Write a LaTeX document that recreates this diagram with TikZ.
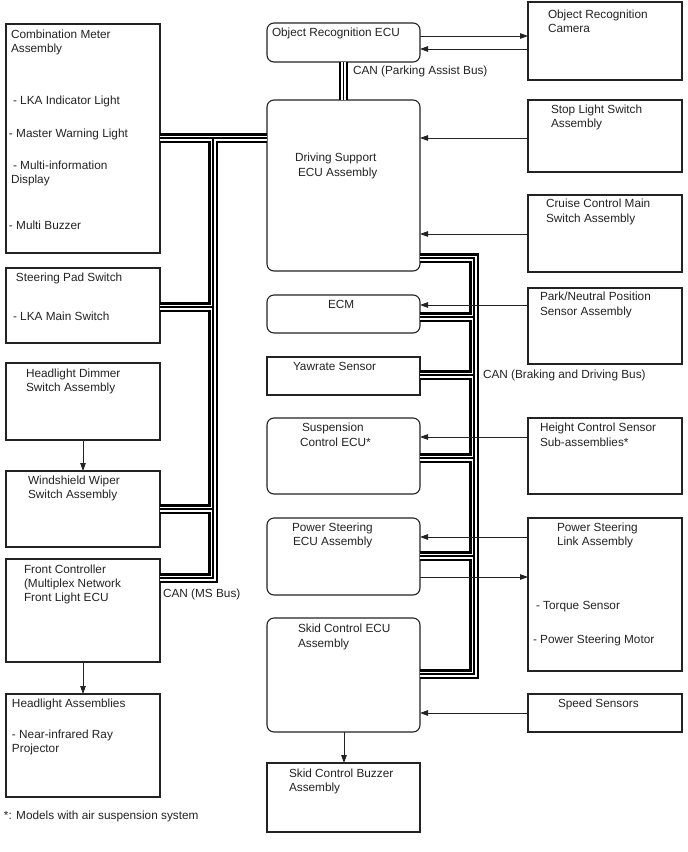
\documentclass[tikz,border=0pt]{standalone}
\usepackage{fontspec}
\setmainfont{Liberation Sans}
\usetikzlibrary{arrows.meta}
\definecolor{ink}{RGB}{35,35,35}
\newcommand\mkbox[6]{%
  \pgfmathsetmacro\myCX{(#3+#5)/2}\pgfmathsetmacro\myCY{(#4+#6)/2}%
  \pgfmathsetmacro\myBW{#5-#3}\pgfmathsetmacro\myBH{#6-#4}%
  \node[#2, minimum width=\myBW pt, minimum height=\myBH pt] (#1) at (\myCX,\myCY) {};}
\newcommand\mytxt[4]{\node[lbl] (#1) at (#2,#3) {#4};}
\begin{document}
\begin{tikzpicture}[x=1pt,y=-1pt,
  sbox/.style={draw=ink, line width=1.1pt, rectangle, inner sep=0pt, outer sep=0pt},
  rbox/.style={sbox, rounded corners=7pt},
  lbl/.style={anchor=base west, inner sep=0pt, outer sep=0pt, text=ink, font=\fontsize{11.8}{13.6}\selectfont},
  arr/.style={draw=ink, line width=0.9pt, -{Triangle[length=8pt,width=5.5pt]}},
  busA/.style={draw=black, line width=9.5pt, line join=miter},
  busB/.style={draw=white, line width=5pt, line join=miter},
  busC/.style={draw=black, line width=1.1pt, line join=miter}]
\fill[white] (0,0) rectangle (688,852);
\useasboundingbox (0,0) rectangle (688,852);
% left column
\mkbox{cm}{sbox}{6}{24}{160}{253}
\mkbox{sp}{sbox}{6}{268}{160}{343}
\mkbox{hd}{sbox}{6}{363}{160}{440}
\mkbox{ww}{sbox}{6}{471}{160}{547}
\mkbox{fc}{sbox}{6}{559}{160}{662}
\mkbox{ha}{sbox}{6}{694}{160}{797}
% middle column
\mkbox{ore}{rbox}{267}{23}{420}{62}
\mkbox{dse}{rbox}{267}{100}{420}{271}
\mkbox{ecm}{rbox}{267}{295}{420}{333}
\mkbox{yaw}{sbox}{267}{357}{420}{395}
\mkbox{sus}{rbox}{267}{418}{420}{494}
\mkbox{ps}{rbox}{267}{518}{420}{595}
\mkbox{sk}{rbox}{267}{618}{420}{732}
\mkbox{skb}{sbox}{267}{763}{420}{832}
% right column
\mkbox{cam}{sbox}{528}{2}{682}{80}
\mkbox{sls}{sbox}{528}{100}{682}{172}
\mkbox{ccm}{sbox}{528}{195}{682}{272}
\mkbox{pn}{sbox}{528}{288}{682}{364}
\mkbox{hc}{sbox}{528}{418}{682}{494}
\mkbox{psl}{sbox}{528}{518}{682}{671}
\mkbox{ss}{sbox}{528}{694}{682}{732}
% buses
\def\busMS{(cm.east |- 0,138) -- (dse.west |- 0,138)
  (213,138) -- (213,578) -- (fc.east |- 0,578)
  (sp.east |- 0,307) -- (213,307)
  (ww.east |- 0,509) -- (213,509)}
\def\busBD{(dse.east |- 0,258) -- (474,258) -- (474,674) -- (sk.east |- 0,674)
  (ecm.east |- 0,317) -- (474,317)
  (yaw.east |- 0,375) -- (474,375)
  (sus.east |- 0,458) -- (474,458)
  (ps.east |- 0,556) -- (474,556)}
\def\busPA{(ore.south) -- (dse.north)}
\foreach \st in {busA,busB,busC}{
  \draw[\st] \busMS;
  \draw[\st] \busBD;
  \draw[\st] \busPA;
}
% arrows
\draw[arr] (ore.east |- 0,36) -- (cam.west |- 0,36);
\draw[arr] (cam.west |- 0,49) -- (ore.east |- 0,49);
\draw[arr] (sls.west |- 0,138) -- (dse.east |- 0,138);
\draw[arr] (ccm.west |- 0,234) -- (dse.east |- 0,234);
\draw[arr] (pn.west |- 0,305) -- (ecm.east |- 0,305);
\draw[arr] (hc.west |- 0,437) -- (sus.east |- 0,437);
\draw[arr] (psl.west |- 0,537) -- (ps.east |- 0,537);
\draw[arr] (ps.east |- 0,577) -- (psl.west |- 0,577);
\draw[arr] (ss.west |- 0,713) -- (sk.east |- 0,713);
\draw[arr] (sk.south -| 344,0) -- (skb.north -| 344,0);
\draw[arr] (hd.south -| 83,0) -- (ww.north -| 83,0);
\draw[arr] (fc.south -| 83,0) -- (ha.north -| 83,0);
% texts
\mytxt{t1}{11}{38}{Combination Meter}
\mytxt{t2}{11}{52}{Assembly}
\mytxt{t3}{13}{104}{- LKA Indicator Light}
\mytxt{t4}{9}{137}{- Master Warning Light}
\mytxt{t5}{13}{169}{- Multi-information}
\mytxt{t6}{11}{183}{Display}
\mytxt{t7}{9}{229}{- Multi Buzzer}
\mytxt{t8}{16}{281}{Steering Pad Switch}
\mytxt{t9}{13}{320}{- LKA Main Switch}
\mytxt{t10}{26}{377}{Headlight Dimmer}
\mytxt{t11}{26}{391}{Switch Assembly}
\mytxt{t12}{28}{484}{Windshield Wiper}
\mytxt{t13}{28}{498}{Switch Assembly}
\mytxt{t14}{24}{573}{Front Controller}
\mytxt{t15}{24}{587}{(Multiplex Network}
\mytxt{t16}{24}{601}{Front Light ECU}
\mytxt{t17}{12}{707}{Headlight Assemblies}
\mytxt{t18}{12}{738}{- Near-infrared Ray}
\mytxt{t19}{12}{752}{Projector}
\mytxt{t20}{4}{819}{*: Models with air suspension system}
\mytxt{t21}{163}{597}{CAN (MS Bus)}
\mytxt{t22}{272}{36}{Object Recognition ECU}
\mytxt{t23}{353}{74}{CAN (Parking Assist Bus)}
\mytxt{t24}{295}{161}{Driving Support}
\mytxt{t25}{298}{176}{ECU Assembly}
\mytxt{t26}{328}{308}{ECM}
\mytxt{t27}{293}{370}{Yawrate Sensor}
\mytxt{t28}{302}{431}{Suspension}
\mytxt{t29}{300}{446}{Control ECU*}
\mytxt{t30}{292}{531}{Power Steering}
\mytxt{t31}{293}{545}{ECU Assembly}
\mytxt{t32}{298}{632}{Skid Control ECU}
\mytxt{t33}{298}{647}{Assembly}
\mytxt{t34}{289}{777}{Skid Control Buzzer}
\mytxt{t35}{289}{791}{Assembly}
\mytxt{t36}{548}{18}{Object Recognition}
\mytxt{t37}{548}{32}{Camera}
\mytxt{t38}{551}{113}{Stop Light Switch}
\mytxt{t39}{551}{127}{Assembly}
\mytxt{t40}{546}{207}{Cruise Control Main}
\mytxt{t41}{546}{222}{Switch Assembly}
\mytxt{t42}{540}{300}{Park/Neutral Position}
\mytxt{t43}{540}{315}{Sensor Assembly}
\mytxt{t44}{540}{431}{Height Control Sensor}
\mytxt{t45}{540}{446}{Sub-assemblies*}
\mytxt{t46}{557}{531}{Power Steering}
\mytxt{t47}{557}{545}{Link Assembly}
\mytxt{t48}{536}{609}{- Torque Sensor}
\mytxt{t49}{533}{643}{- Power Steering Motor}
\mytxt{t50}{558}{707}{Speed Sensors}
\mytxt{t51}{483}{378}{CAN (Braking and Driving Bus)}
\end{tikzpicture}
\end{document}
